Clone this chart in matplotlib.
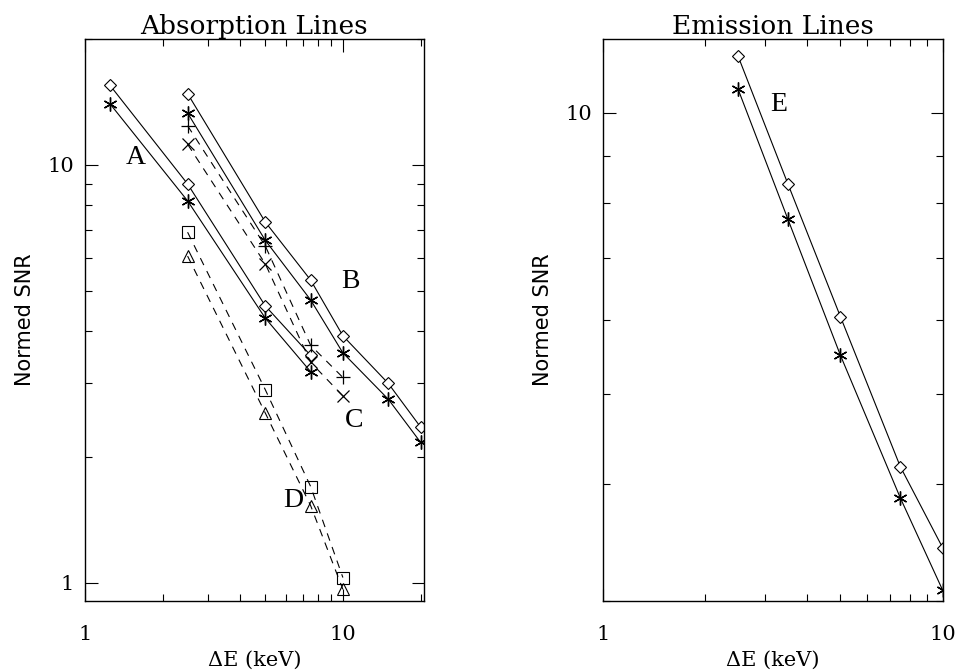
import matplotlib
matplotlib.use("Agg")
import matplotlib.pyplot as plt
from matplotlib.ticker import LogLocator, NullFormatter, FixedLocator, FixedFormatter

# absorption lines
a_x = [1.25, 2.5, 5, 7.5]
a_dia = [15.5, 9.0, 4.6, 3.5]
a_ast = [14.0, 8.2, 4.3, 3.2]

b_x = [2.5, 5, 7.5, 10, 15, 20]
b_dia = [14.8, 7.3, 5.3, 3.9, 3.0, 2.36]
b_ast = [13.3, 6.6, 4.75, 3.55, 2.75, 2.17]

c_x = [2.5, 5, 7.5, 10]
c_plus = [12.4, 6.4, 3.7, 3.1]
c_cross = [11.2, 5.8, 3.37, 2.8]

d_x = [2.5, 5, 7.5, 10]
d_sq = [6.9, 2.9, 1.7, 1.03]
d_tri = [6.05, 2.55, 1.53, 0.965]

# emission lines
e_x = [2.5, 3.5, 5, 7.5, 10]
e_dia = [11.5, 8.4, 6.05, 4.18, 3.42]
e_ast = [10.6, 7.7, 5.5, 3.87, 3.08]

plt.rcParams["font.family"] = "DejaVu Serif"

fig = plt.figure(figsize=(9.6, 6.71), dpi=100)
ax1 = fig.add_axes([0.0885, 0.1043, 0.353, 0.8376])
ax2 = fig.add_axes([0.628, 0.1043, 0.354, 0.8376])

solid = dict(color="black", lw=0.8)
dash = dict(color="black", lw=0.8, ls=(0, (7, 6)))
dia = dict(marker="D", ms=6.5, mfc="white", mec="black", mew=0.8)
ast = dict(marker=(6, 2, 0), ms=10, mec="black", mew=1.0)

ax1.plot(a_x, a_dia, **solid, **dia)
ax1.plot(a_x, a_ast, **solid, **ast)
ax1.plot(b_x, b_dia, **solid, **dia)
ax1.plot(b_x, b_ast, **solid, **ast)
ax1.plot(c_x, c_plus, **dash, marker="+", ms=10, mew=0.9, mec="black")
ax1.plot(c_x, c_cross, **dash, marker="x", ms=9, mew=0.9, mec="black")
ax1.plot(d_x, d_sq, **dash, marker="s", ms=8, mfc="none", mec="black", mew=0.8)
ax1.plot(d_x, d_tri, **dash, marker="^", ms=9, mfc="none", mec="black", mew=0.8)

lbl = dict(fontsize=20, family="Liberation Serif", ha="center", va="center")
ax1.text(1.58, 10.4, "A", **lbl)
ax1.text(10.7, 5.25, "B", **lbl)
ax1.text(11.1, 2.45, "C", **lbl)
ax1.text(6.4, 1.57, "D", **lbl)

ax2.plot(e_x, e_dia, **solid, **dia)
ax2.plot(e_x, e_ast, **solid, **ast)
ax2.text(3.3, 10.2, "E", **lbl)

ax1.set_xlim(1, 20.6)
ax1.set_ylim(0.905, 20)
ax2.set_xlim(1, 10)
ax2.set_ylim(3, 12)

for ax, title in [(ax1, "Absorption Lines"), (ax2, "Emission Lines")]:
    ax.set_xscale("log")
    ax.set_yscale("log")
    ax.xaxis.set_major_locator(FixedLocator([1, 10]))
    ax.xaxis.set_major_formatter(FixedFormatter(["1", "10"]))
    ax.yaxis.set_major_locator(FixedLocator([1, 10]))
    ax.yaxis.set_major_formatter(FixedFormatter(["1", "10"]))
    ax.xaxis.set_minor_locator(LogLocator(base=10, subs=range(2, 10)))
    ax.yaxis.set_minor_locator(LogLocator(base=10, subs=range(2, 10)))
    ax.xaxis.set_minor_formatter(NullFormatter())
    ax.yaxis.set_minor_formatter(NullFormatter())
    ax.tick_params(which="both", direction="in", top=True, right=True,
                   labelsize=15, width=0.8)
    ax.tick_params(axis="x", which="major", pad=17)
    ax.tick_params(axis="y", which="major", pad=8)
    ax.tick_params(which="major", length=9)
    ax.tick_params(which="minor", length=5)
    for s in ax.spines.values():
        s.set_linewidth(1.0)
    ax.set_title(title, fontsize=19, pad=3)
    ax.set_xlabel("ΔE (keV)", fontsize=15, labelpad=5)
    ax.set_ylabel("Normed SNR", fontsize=15, labelpad=9, family="DejaVu Sans")

fig.savefig("out.png", dpi=100)
